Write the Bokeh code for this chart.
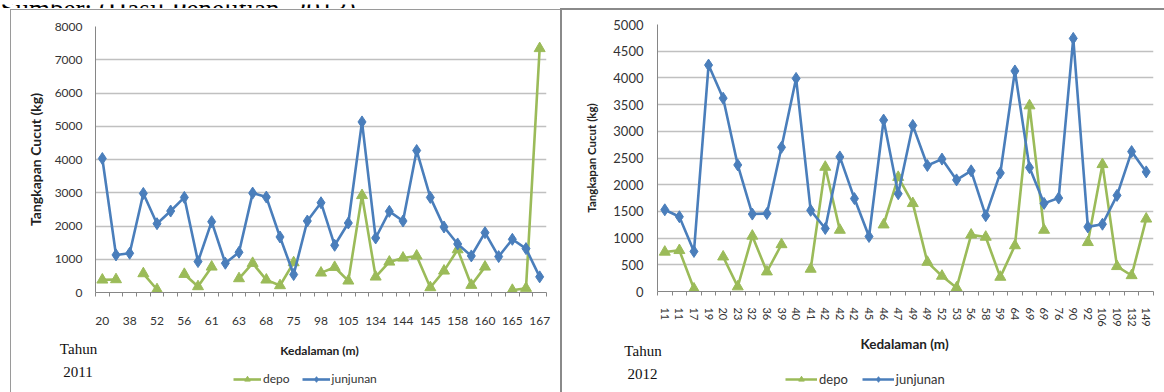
from bokeh.plotting import figure
from bokeh.models import FixedTicker, Label, Legend, LegendItem
from bokeh.layouts import row, column
from bokeh.embed import file_html
from bokeh.resources import INLINE

nan = float("nan")

# ---- 2011 ----
labels_2011 = ["20", "38", "52", "56", "61", "63", "68", "75", "98", "105",
               "134", "144", "145", "158", "160", "165", "167"]
junjunan_2011 = [4030, 1130, 1180, 2980, 2070, 2450, 2860, 930, 2130, 880, 1210,
                 2990, 2870, 1670, 540, 2150, 2700, 1420, 2090, 5130, 1640, 2440,
                 2150, 4270, 2860, 1970, 1460, 1100, 1800, 1080, 1600, 1320, 470]
depo_2011 = [380, 390, nan, 570, 90, nan, 550, 180, 770, nan, 420,
             880, 380, 210, 900, nan, 590, 760, 350, 2920, 470, 920,
             1040, 1100, 150, 650, 1290, 220, 770, nan, 70, 130, 7340]

# ---- 2012 ----
labels_2012 = ["11", "11", "17", "19", "20", "23", "32", "36", "39", "40", "41", "42",
               "42", "42", "45", "46", "47", "49", "49", "52", "53", "56", "58", "59",
               "64", "69", "69", "76", "90", "92", "106", "109", "132", "149"]
junjunan_2012 = [1530, 1400, 750, 4240, 3620, 2370, 1450, 1460, 2700, 3990, 1520, 1180,
                 2520, 1740, 1030, 3210, 1830, 3110, 2360, 2480, 2090, 2260, 1420, 2220,
                 4130, 2320, 1650, 1750, 4740, 1210, 1260, 1800, 2620, 2240]
depo_2012 = [740, 770, 50, nan, 650, 90, 1040, 370, 880, nan, 420, 2330,
             1150, nan, nan, 1250, 2140, 1650, 550, 290, 70, 1060, 1020, 270,
             860, 3480, 1150, nan, nan, 920, 2380, 470, 300, 1360]

source_note = "Sumber: (Hasil Penelitian, 2013)"
x_title = "Kedalaman (m)"
y_title = "Tangkapan Cucut (kg)"

BLUE = "#4a7ebb"
GREEN = "#9bbb59"
FONT = "Lato"
TOP_H = 8
MAIN_H = 327
BOT_H = 57


def no_align(f):
    try:
        f.frame_align = False
    except Exception:
        pass


def blank(width, height, shadow=None):
    f = figure(width=width, height=height, x_range=(0, width), y_range=(0, height),
               output_backend="svg", toolbar_location=None, min_border=0,
               x_axis_location=None, y_axis_location=None)
    f.grid.visible = False
    f.outline_line_color = None
    f.background_fill_color = None
    f.border_fill_color = None
    if shadow:
        f.styles = {"box-shadow": shadow}
    no_align(f)
    return f


def make_chart(jun, dep, tick_labels, label_step, ymax, ystep, cfg):
    n = len(jun)
    xs = list(range(n))
    p = figure(width=cfg["width"], height=MAIN_H, output_backend="svg",
               toolbar_location=None, x_range=(-0.5, n - 0.5), y_range=(0, ymax),
               min_border_left=cfg["ml"], min_border_right=cfg["mr"],
               min_border_top=cfg["mt"], min_border_bottom=cfg["mb"])
    p.border_fill_color = None
    p.outline_line_color = None
    p.styles = {"box-shadow": cfg["shadow"]}
    no_align(p)

    p.line(xs, dep, line_color=GREEN, line_width=2.6)
    p.scatter(xs, dep, marker="triangle", size=11, fill_color=GREEN, line_color=GREEN)
    p.line(xs, jun, line_color=BLUE, line_width=2.6)
    p.scatter(xs, jun, marker="diamond", size=12, fill_color=BLUE, line_color=BLUE)

    ticks = list(range(0, n, label_step))
    p.xaxis.ticker = FixedTicker(ticks=ticks,
                                 minor_ticks=[i - 0.5 for i in range(n + 1)])
    p.xaxis.major_label_overrides = {t: tick_labels[k] for k, t in enumerate(ticks)}
    p.xaxis.major_tick_out = 0
    p.xaxis.major_tick_in = 0
    p.xaxis.minor_tick_out = 4
    p.xaxis.minor_tick_in = 0
    p.xaxis.minor_tick_line_color = "#868686"
    p.xaxis.axis_line_color = "#868686"
    p.xaxis.major_label_text_font = FONT
    p.xaxis.major_label_text_font_size = cfg["xfs"]
    p.xaxis.major_label_text_color = "#333333"
    p.xaxis.major_label_standoff = cfg["xstand"]
    if cfg["vertical"]:
        p.xaxis.major_label_orientation = "vertical"

    p.yaxis.ticker = FixedTicker(ticks=list(range(0, ymax + 1, ystep)))
    p.yaxis.major_tick_out = 0
    p.yaxis.major_tick_in = 0
    p.yaxis.minor_tick_line_color = None
    p.yaxis.axis_line_color = "#868686"
    p.yaxis.major_label_text_font = FONT
    p.yaxis.major_label_text_font_size = cfg["yfs"]
    p.yaxis.major_label_text_color = "#333333"
    p.yaxis.major_label_standoff = cfg["ystand"]
    p.yaxis.axis_label = y_title
    p.yaxis.axis_label_text_font = FONT
    p.yaxis.axis_label_text_font_style = "bold"
    p.yaxis.axis_label_text_font_size = cfg["ylfs"]
    p.yaxis.axis_label_text_color = "#222222"
    p.yaxis.axis_label_standoff = cfg["ylstand"]

    p.xgrid.grid_line_color = None
    p.ygrid.grid_line_color = "#c0c0c0"
    p.ygrid.grid_line_width = 1.3
    return p


def make_bottom(year, cfg):
    b = blank(cfg["width"], BOT_H, cfg["bshadow"])
    # legend key samples: a single undefined point, so nothing is drawn in the plot
    ld = b.line([nan], [nan], line_color=GREEN, line_width=2.6)
    sd = b.scatter([nan], [nan], marker="triangle", size=11, fill_color=GREEN,
                   line_color=GREEN)
    lj = b.line([nan], [nan], line_color=BLUE, line_width=2.6)
    sj = b.scatter([nan], [nan], marker="diamond", size=12, fill_color=BLUE,
                   line_color=BLUE)
    legend = Legend(items=[LegendItem(label="depo", renderers=[ld, sd]),
                           LegendItem(label="junjunan", renderers=[lj, sj])],
                    orientation="horizontal", location=cfg["legloc"],
                    border_line_color=None, background_fill_alpha=0,
                    padding=0, margin=0, spacing=cfg["legspace"],
                    glyph_width=cfg["glyphw"], glyph_height=14, label_standoff=2,
                    label_text_font=FONT, label_text_font_size=cfg["legfs"],
                    label_text_color="#333333")
    b.add_layout(legend)
    xl, yl = cfg["xlab"]
    b.add_layout(Label(x=xl, y=yl, text=x_title, text_align="center",
                       text_baseline="middle", text_font=FONT,
                       text_font_style="bold", text_font_size=cfg["xlfs"],
                       text_color="#222222"))
    for txt, (x, y) in zip(["Tahun", year], cfg["tahun"]):
        b.add_layout(Label(x=x, y=y, text=txt, text_align="center",
                           text_baseline="middle", text_font="Liberation Serif",
                           text_font_size="15px", text_color="#111111"))
    return b


cfg_2011 = dict(width=560, ml=95, mr=14, mt=18, mb=43,
                shadow="inset 10px 0 0 #ffffff, inset 0 1px 0 #ffffff, "
                       "inset 11px 0 0 #9a9a9a, inset 0 2px 0 #9a9a9a",
                bshadow="inset 10px 0 0 #ffffff, inset 11px 0 0 #9a9a9a",
                xfs="12px", xstand=20, vertical=False, xlfs="12px",
                yfs="12px", ystand=13, ylfs="14px", ylstand=8,
                legloc=(233, 6), legspace=12, glyphw=28, legfs="12px",
                xlab=(319, 42), tahun=[(78, 44), (77.5, 21)])
cfg_2012 = dict(width=604, ml=97, mr=11, mt=16, mb=44,
                shadow="inset 2px 0 0 #8a8a8a, inset 0 2px 0 #8a8a8a",
                bshadow="inset 2px 0 0 #8a8a8a",
                xfs="11px", xstand=12, vertical=True, xlfs="13.5px",
                yfs="13px", ystand=14, ylfs="11.5px", ylstand=12,
                legloc=(225, 5), legspace=14, glyphw=32, legfs="13px",
                xlab=(344, 49), tahun=[(82.5, 42), (82, 19)])

top = blank(1164, TOP_H)
top.add_layout(Label(x=0, y=3.5, text=source_note, text_align="left",
                     text_baseline="alphabetic", text_font="Liberation Serif",
                     text_font_size="27px", text_color="#000000"))

p1 = make_chart(junjunan_2011, depo_2011, labels_2011, 2, 8000, 1000, cfg_2011)
b1 = make_bottom("2011", cfg_2011)
p2 = make_chart(junjunan_2012, depo_2012, labels_2012, 1, 5000, 500, cfg_2012)
b2 = make_bottom("2012", cfg_2012)

layout = column(top, row(column(p1, b1, spacing=0), column(p2, b2, spacing=0), spacing=0),
                spacing=0)
open("out.html", "w").write(file_html(layout, INLINE))
